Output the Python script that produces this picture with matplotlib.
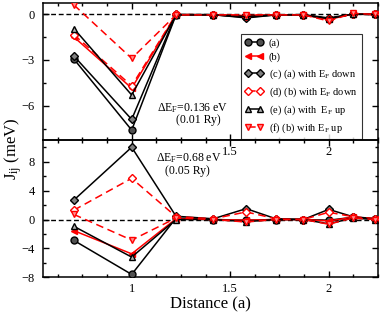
import matplotlib
matplotlib.use('Agg')
import matplotlib.pyplot as plt
from matplotlib.ticker import MultipleLocator

plt.rcParams['font.family'] = 'Liberation Serif'
plt.rcParams['mathtext.fontset'] = 'custom'
plt.rcParams['mathtext.rm'] = 'Liberation Serif'
plt.rcParams['mathtext.it'] = 'Liberation Serif:italic'

# neighbour distances (a)
dist = [0.707, 1.0, 1.225, 1.414, 1.581, 1.732, 1.871, 2.0, 2.121, 2.236]

# top panel, dEF = 0.136 eV
top_a = [-2.95, -7.6, -0.05, -0.05, -0.2, -0.05, -0.05, -0.3, 0.0, -0.02]
top_b = [-1.5, -4.85, -0.05, -0.05, -0.1, -0.05, -0.05, -0.3, 0.0, -0.02]
top_c = [-2.75, -6.9, -0.02, -0.03, -0.25, -0.05, -0.03, -0.25, 0.0, -0.02]
top_d = [-1.35, -4.7, -0.02, -0.05, -0.1, -0.05, -0.05, -0.35, 0.0, -0.02]
top_e = [-0.95, -5.3, -0.05, -0.05, -0.15, -0.05, -0.05, -0.3, 0.0, -0.02]
top_f = [0.6, -2.9, -0.05, -0.05, -0.05, -0.05, -0.05, -0.45, 0.05, -0.02]

# bottom panel, dEF = 0.68 eV
bot_a = [-2.9, -7.6, 0.2, 0.0, -0.1, 0.0, 0.0, -0.1, 0.3, 0.1]
bot_b = [-1.55, -4.75, 0.1, 0.0, -0.1, 0.0, 0.0, -0.2, 0.3, 0.1]
bot_c = [2.7, 10.0, 0.45, 0.1, 1.5, 0.1, 0.0, 1.4, 0.4, 0.1]
bot_d = [1.3, 5.7, 0.4, 0.1, 1.05, 0.1, 0.0, 1.0, 0.4, 0.1]
bot_e = [-0.95, -5.2, 0.0, 0.0, -0.3, 0.0, 0.0, -0.6, 0.2, 0.0]
bot_f = [0.7, -2.85, 0.2, 0.0, -0.35, 0.0, 0.0, -0.65, 0.2, 0.0]

labels = ['(a)', '(b)',
          '(c) (a) with E$_\\mathrm{F}$ down',
          '(d) (b) with E$_\\mathrm{F}$ down',
          '(e) (a) with  E$_\\mathrm{F}$ up',
          '(f) (b) with E$_\\mathrm{F}$ up']

styles = [
    dict(color='black', ls='-', marker='o', mfc='#505050', mec='black'),
    dict(color='red', ls='-', marker='<', mfc='red', mec='red'),
    dict(color='black', ls='-', marker='D', mfc='#808080', mec='black', ms=4.5),
    dict(color='red', ls=(0, (5, 3)), marker='D', mfc='white', mec='red', ms=4.5),
    dict(color='black', ls='-', marker='^', mfc='#b0b0b0', mec='black'),
    dict(color='red', ls=(0, (5, 3)), marker='v', mfc='#ff9090', mec='red'),
]

fig = plt.figure(figsize=(3.82, 3.13), dpi=100)
ax1 = fig.add_axes([0.1126, 0.5527, 0.8769, 0.4387])
ax2 = fig.add_axes([0.1126, 0.1140, 0.8769, 0.4387], facecolor='none')

for ax, series in [(ax1, [top_a, top_b, top_c, top_d, top_e, top_f]),
                   (ax2, [bot_a, bot_b, bot_c, bot_d, bot_e, bot_f])]:
    ax.axhline(0, color='black', lw=1, ls=(0, (3.5, 2)), zorder=1)
    for vals, st, lab in zip(series, styles, labels):
        kw = dict(st)
        ms = kw.pop('ms', 5)
        ax.plot(dist, vals, lw=1.1, ms=ms, mew=1, label=lab, zorder=3, **kw)
    ax.set_xlim(0.55, 2.25)
    ax.xaxis.set_major_locator(MultipleLocator(0.5))
    ax.xaxis.set_minor_locator(MultipleLocator(0.125))
    ax.tick_params(which='both', direction='in', top=True, right=True, labelsize=9)
    ax.tick_params(which='major', length=4, width=1)
    ax.tick_params(which='minor', length=2.5, width=1)
    ax.tick_params(axis='y', pad=6)
    ax.tick_params(axis='x', pad=4)
    for sp in ax.spines.values():
        sp.set_linewidth(1.1)

ax1.set_ylim(-8.25, 0.75)
ax1.set_yticks([0, -3, -6])
ax1.yaxis.set_minor_locator(MultipleLocator(1.5))
ax1.set_xticks([1, 1.5, 2])
ax1.set_xticklabels(['', '1.5', '2'])

ax2.set_ylim(-8, 11)
ax2.set_yticks([8, 4, 0, -4, -8])
ax2.yaxis.set_minor_locator(MultipleLocator(2))
ax2.set_xticks([1, 1.5, 2])
ax2.set_xticklabels(['1', '1.5', '2'])
ax2.set_xlabel('Distance (a)', fontsize=12, labelpad=1)

leg = ax1.legend(loc='upper left', bbox_to_anchor=(0.59, 0.77), fontsize=7.5,
                 numpoints=2, handlelength=1.8, handletextpad=0.5,
                 labelspacing=0.45, borderpad=0.4, borderaxespad=0,
                 frameon=True, fancybox=False)
leg.get_frame().set_edgecolor('black')
leg.get_frame().set_linewidth(0.8)

fig.text(157 / 382, 1 - 108 / 313, '\u0394E$_\\mathrm{F}$=0.136 eV', fontsize=8.5, va='center')
fig.text(176 / 382, 1 - 120 / 313, '(0.01 Ry)', fontsize=8.5, va='center')
fig.text(156 / 382, 1 - 158 / 313, '\u0394E$_\\mathrm{F}$=0.68 eV', fontsize=8.5, va='center')
fig.text(165 / 382, 1 - 171 / 313, '(0.05 Ry)', fontsize=8.5, va='center')

fig.text(13 / 382, 1 - 149 / 313, 'J$_\\mathrm{ij}$ (meV)', fontsize=12,
         rotation=90, ha='center', va='center')

fig.savefig('out.png', dpi=100)
